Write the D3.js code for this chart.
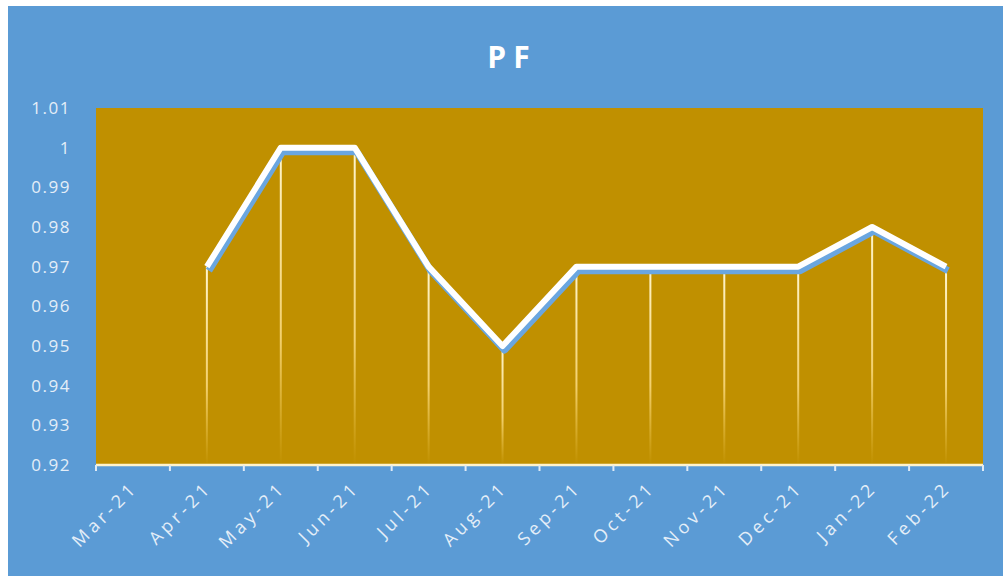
<!DOCTYPE html>
<html lang="en">
<head>
<meta charset="UTF-8">
<script src="https://cdnjs.cloudflare.com/ajax/libs/d3/7.8.5/d3.min.js"></script>
<style>
  body { margin: 0; background: #fff; }
  svg text { font-family: "Open Sans", "Liberation Sans", sans-serif; }
</style>
</head>
<body>
<script>
// chart data
var months = ["Mar-21", "Apr-21", "May-21", "Jun-21", "Jul-21", "Aug-21", "Sep-21", "Oct-21", "Nov-21", "Dec-21", "Jan-22", "Feb-22"];
var pf = [null, 0.97, 1.0, 1.0, 0.97, 0.95, 0.97, 0.97, 0.97, 0.97, 0.98, 0.97];
var yTicks = [0.92, 0.93, 0.94, 0.95, 0.96, 0.97, 0.98, 0.99, 1, 1.01];

var W = 1003, H = 583;
var plot = {left: 96, right: 983, top: 108, bottom: 465};

var svg = d3.select("body").append("svg")
    .attr("width", W)
    .attr("height", H);

var defs = svg.append("defs");
var grad = defs.append("linearGradient")
    .attr("id", "dropGrad")
    .attr("x1", 0).attr("y1", 0).attr("x2", 0).attr("y2", 1);
grad.append("stop").attr("offset", "0%").attr("stop-color", "#fff6d0").attr("stop-opacity", 1);
grad.append("stop").attr("offset", "60%").attr("stop-color", "#ffe08a").attr("stop-opacity", 0.8);
grad.append("stop").attr("offset", "100%").attr("stop-color", "#ffd966").attr("stop-opacity", 0);

// background
svg.append("rect")
    .attr("x", 8).attr("y", 6)
    .attr("width", W - 8).attr("height", 570)
    .attr("fill", "#5b9bd5");

svg.append("rect")
    .attr("x", plot.left).attr("y", plot.top)
    .attr("width", plot.right - plot.left).attr("height", plot.bottom - plot.top)
    .attr("fill", "#c09000");

var x = d3.scaleBand().domain(months).range([plot.left, plot.right]);
var y = d3.scaleLinear().domain([0.92, 1.01]).range([plot.bottom, plot.top]);

// title
svg.append("text")
    .attr("x", 512).attr("y", 68)
    .attr("text-anchor", "middle")
    .attr("fill", "#ffffff")
    .attr("font-size", 30)
    .attr("font-weight", "bold")
    .attr("letter-spacing", 7)
    .text("PF");

// y labels
svg.selectAll(".ylab").data(yTicks).enter().append("text")
    .attr("class", "ylab")
    .attr("x", 71)
    .attr("y", d => y(d) + 6)
    .attr("text-anchor", "end")
    .attr("fill", "#e4eef8")
    .attr("font-size", 17)
    .attr("letter-spacing", 1.5)
    .text(d => d3.format("~g")(d));

var pts = months.map((m, i) => ({m: m, v: pf[i]})).filter(d => d.v != null);

// drop lines
svg.selectAll(".drop").data(pts).enter().append("rect")
    .attr("class", "drop")
    .attr("x", d => x(d.m) + x.bandwidth() / 2 - 1)
    .attr("y", d => y(d.v))
    .attr("width", 2)
    .attr("height", d => plot.bottom - y(d.v))
    .attr("fill", "url(#dropGrad)");

// x axis
var xAxis = svg.append("g")
    .attr("transform", "translate(0," + plot.bottom + ")");
xAxis.append("line")
    .attr("x1", plot.left).attr("x2", plot.right)
    .attr("stroke", "#fff3cc").attr("stroke-width", 2.5);
var bounds = months.map(m => x(m)).concat([plot.right]);
xAxis.selectAll(".tk").data(bounds).enter().append("line")
    .attr("class", "tk")
    .attr("x1", d => d).attr("x2", d => d)
    .attr("y1", 0).attr("y2", 6)
    .attr("stroke", "#dfeaf6").attr("stroke-width", 2);
xAxis.selectAll(".xlab").data(months).enter().append("text")
    .attr("class", "xlab")
    .attr("transform", d => "translate(" + (x(d) + x.bandwidth() / 2 + 6) + ",24) rotate(-45)")
    .attr("text-anchor", "end")
    .attr("fill", "#e4eef8")
    .attr("font-size", 18)
    .attr("letter-spacing", 4)
    .text(d => d);

// line with shadow
var line = d3.line()
    .x(d => x(d.m) + x.bandwidth() / 2)
    .y(d => y(d.v));

svg.append("path")
    .datum(pts)
    .attr("d", line)
    .attr("transform", "translate(2,4)")
    .attr("fill", "none")
    .attr("stroke", "#6aa6e0")
    .attr("stroke-width", 7)
    .attr("stroke-linejoin", "round");

svg.append("path")
    .datum(pts)
    .attr("d", line)
    .attr("fill", "none")
    .attr("stroke", "#ffffff")
    .attr("stroke-width", 6)
    .attr("stroke-linejoin", "round");
</script>
</body>
</html>
